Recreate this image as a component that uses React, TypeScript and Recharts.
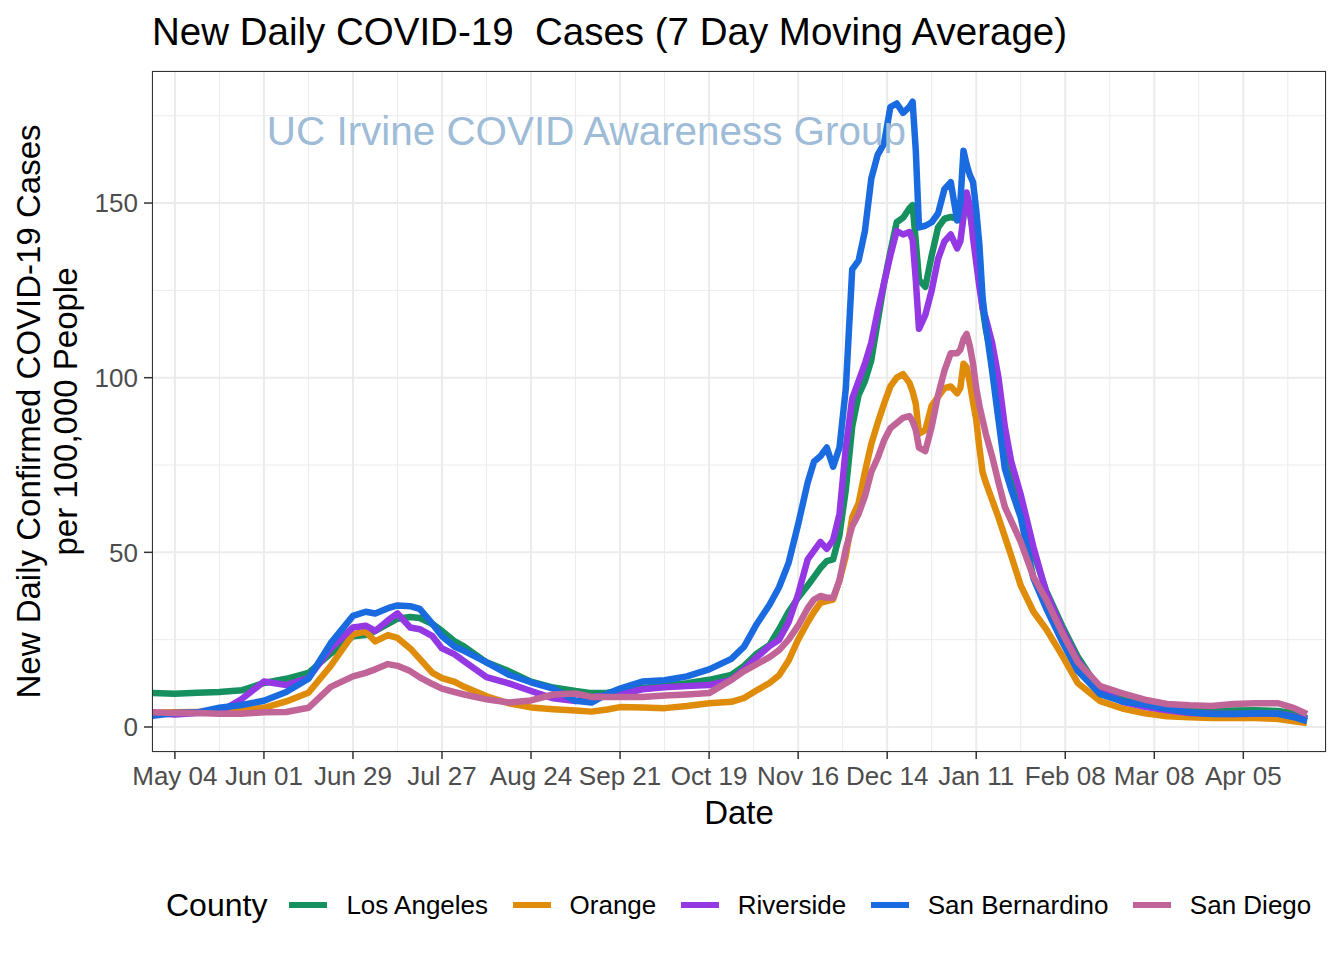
import React from 'react';
import {
  LineChart,
  Line,
  XAxis,
  YAxis,
  CartesianGrid,
  ReferenceDot
} from 'recharts';

// days counted from May 04 2020
const days = [
  -7, 0, 7, 14, 21, 28, 35, 42, 49, 56,
  60, 63, 67, 70, 74, 77, 81, 84, 88, 91,
  98, 105, 112, 119, 126, 131, 136, 140, 147, 154,
  161, 168, 175, 179, 183, 187, 190, 193, 196, 199,
  201, 203, 205, 207, 209, 211, 213, 215, 217, 219,
  221, 223, 225, 227, 229, 231, 232, 233, 234, 236,
  238, 240, 242, 244, 246, 247, 248, 249, 250, 251,
  252, 253, 254, 255, 257, 259, 261, 263, 266, 270,
  274, 279, 284, 291, 298, 305, 312, 319, 326, 333,
  340, 347, 352, 356
];

const losAngeles = [
  9.7, 9.5, 9.8, 10, 10.5, 12.6, 13.8, 15.5, 21, 26,
  26.3, 27.5, 29.5, 31, 31.5, 31.2, 29.5, 27.5, 24.5, 23,
  18.5, 16, 13, 11.3, 10.3, 9.7, 9.8, 10.3, 11.2, 11.8,
  12.5, 13.5, 14.9, 17.5, 21, 23.5, 28, 33, 37, 40.5,
  43, 45.5, 47.5, 48, 55, 68, 86, 95, 99, 105,
  116, 127, 136, 144.5, 145.8, 148.5, 149.4, 139, 128, 126,
  135, 143, 145.5, 146, 145.5, 145, 147, 150, 147, 142,
  135, 128, 120, 114, 105, 95, 82, 74, 64, 50,
  39, 29, 20, 10.3, 8, 6.8, 5.5, 4.8, 4.6, 4.7,
  4.8, 4.6, 3.9, 2.5
];

const orange = [
  4, 4.2, 4.3, 4.5, 4.8, 5.5, 7.3, 9.8, 17.5, 26.5,
  27.3, 24.5, 26.3, 25.5, 22.5, 19.5, 15.5, 14, 12.9, 11.5,
  8.8, 6.8, 5.6, 5.1, 4.7, 4.4, 5, 5.7, 5.6, 5.4,
  6, 6.8, 7.2, 8.3, 10.5, 12.6, 14.8, 19, 25, 30,
  33, 35.5, 36, 36.5, 42, 49, 60, 64, 73, 81,
  87, 92.5, 97.5, 100, 101, 98.5, 96, 92.5, 84, 85,
  92, 94.5, 97, 97.5, 95.5, 97, 104, 103, 98.5, 93,
  88, 80, 73, 70, 65, 60, 54.5, 49, 40.5, 33,
  28, 20.5, 12.5, 7.4, 5.3, 3.9, 3.1, 2.8, 2.6, 2.6,
  2.6, 2.3, 1.6, 1.1
];

const riverside = [
  4, 3.6, 4, 4.2, 8, 13, 12, 14, 22.5, 28.5,
  29, 27.5, 30.5, 32.5, 28.5, 28, 26, 22.5, 20.8, 18.8,
  14.3, 12.5, 10.3, 8.2, 7.4, 8.5, 9, 9.3, 10.8, 11.4,
  11.7, 12, 13.5, 16.5, 20, 23.2, 25, 30, 38, 48,
  50.5, 53, 51, 53.5, 61, 80, 94, 99, 104, 110,
  119, 127, 135, 142, 141, 141.7, 139.5, 128, 114, 118,
  125, 134, 139, 141, 137, 139, 146, 153, 149, 140,
  133, 126, 120, 117, 110, 100, 86, 76, 66.5, 51.5,
  38.5, 28, 19, 10.5, 7.2, 5.8, 4.8, 4, 3.8, 3.7,
  3.8, 3.8, 3, 2
];

const sanBernardino = [
  3.2, 4, 4.2, 5.5, 6.3, 7.5, 10, 13.8, 24, 31.8,
  33, 32.5, 34, 34.8, 34.6, 33.8, 29.5, 26, 23, 21.8,
  18.5, 15, 12.8, 11, 7.5, 7, 9.5, 11, 13, 13.4,
  14.5, 16.5, 19.5, 23, 29.5, 35, 40, 47, 58, 70,
  76, 77.5, 80, 74.5, 80, 97, 131, 133.5, 142, 157,
  163.8, 167, 177.5, 178.5, 175.8, 177.5, 179, 165, 143, 143.5,
  144.5, 147, 154, 156, 145, 150, 165, 161, 158, 156,
  148, 138, 123, 115, 102, 88, 74, 68, 60, 42.5,
  34, 24.5, 16, 9.4, 7.3, 6.4, 5.2, 4.2, 3.7, 3.7,
  3.9, 3.8, 2.8, 1.7
];

const sanDiego = [
  4.2, 4, 4, 3.8, 3.8, 4.2, 4.3, 5.5, 11.5, 14.5,
  15.5, 16.5, 18, 17.5, 16, 14.2, 12.3, 11, 10, 9.3,
  7.9, 7, 7.6, 9.3, 9.6, 8.6, 8.6, 8.6, 8.6, 9,
  9.3, 9.7, 13.5, 16, 18, 20, 22, 25, 29, 34,
  36.5, 37.5, 37, 37, 42, 51, 57.5, 61, 66, 73,
  77, 82, 85.5, 87, 88.5, 89, 87.5, 85, 80, 79,
  86, 95, 102, 107, 107, 108, 111, 112.5, 109, 104,
  97, 92, 88, 84, 77.5, 70, 63, 59, 53, 43,
  36.5, 27, 18.5, 11.7, 9.6, 7.8, 6.6, 6.2, 6, 6.6,
  6.8, 6.8, 5.4, 3.7
];

const tickLabels = [
  'May 04', 'Jun 01', 'Jun 29', 'Jul 27', 'Aug 24', 'Sep 21', 'Oct 19',
  'Nov 16', 'Dec 14', 'Jan 11', 'Feb 08', 'Mar 08', 'Apr 05'
];
const xTicks = tickLabels.map((_, i) => i * 28);
const xMinor = [14, 42, 70, 98, 126, 154, 182, 210, 238, 266, 294, 322, 350];
const yTicks = [0, 50, 100, 150];
const yMinor = [25, 75, 125, 175];

const series = [
  { key: 'la', name: 'Los Angeles', color: '#16905f', values: losAngeles },
  { key: 'orange', name: 'Orange', color: '#e08c0b', values: orange },
  { key: 'riverside', name: 'Riverside', color: '#9438e4', values: riverside },
  { key: 'sb', name: 'San Bernardino', color: '#1a6ae0', values: sanBernardino },
  { key: 'sd', name: 'San Diego', color: '#c16497', values: sanDiego }
];

const data = days.map((day, i) => {
  const row: Record<string, number> = { day };
  series.forEach(s => {
    row[s.key] = s.values[i];
  });
  return row;
});

const FONT = '"Liberation Sans", Arial, Helvetica, sans-serif';
const W = 1344;
const H = 960;

export default function App() {
  return (
    <div
      style={{
        position: 'absolute',
        left: 0,
        top: 0,
        width: W,
        height: H,
        background: '#fff',
        fontFamily: FONT
      }}
    >
      <div
        style={{
          position: 'absolute',
          left: 152,
          top: 12,
          fontSize: 38.5,
          lineHeight: '39px',
          whiteSpace: 'pre',
          color: '#000'
        }}
      >
        {'New Daily COVID-19  Cases (7 Day Moving Average)'}
      </div>

      <LineChart
        width={W}
        height={H}
        data={data}
        margin={{ top: 71, right: 18, left: 0, bottom: 148 }}
        style={{ fontFamily: FONT }}
      >
        <CartesianGrid
          stroke="#ebebeb"
          strokeWidth={1}
          horizontalValues={yMinor}
          verticalValues={xMinor}
        />
        <CartesianGrid stroke="#ebebeb" strokeWidth={2} />
        <XAxis
          type="number"
          dataKey="day"
          domain={[-7.2, 362]}
          allowDataOverflow
          ticks={xTicks}
          tickFormatter={(v: number) => tickLabels[Math.round(v / 28)] ?? ''}
          height={60}
          axisLine={false}
          tickSize={7}
          tickMargin={8}
          tickLine={{ stroke: '#333', strokeWidth: 1.5 }}
          tick={{ fontSize: 26, fill: '#4d4d4d' }}
          interval={0}
          label={{
            content: ({ viewBox }: any) => (
              <text
                x={viewBox.x + viewBox.width / 2}
                y={viewBox.y + 72}
                textAnchor="middle"
                fontSize={33}
                fill="#000"
              >
                Date
              </text>
            )
          }}
        />
        <YAxis
          type="number"
          domain={[-7.16, 187.8]}
          allowDataOverflow
          ticks={yTicks}
          width={152}
          axisLine={false}
          tickSize={8}
          tickMargin={6}
          tickLine={{ stroke: '#333', strokeWidth: 1.5 }}
          tick={{ fontSize: 26, fill: '#4d4d4d' }}
          label={{
            content: ({ viewBox }: any) => {
              const cy = viewBox.y + viewBox.height / 2;
              return (
                <text
                  transform={`rotate(-90, 39.5, ${cy})`}
                  x={39.5}
                  y={cy}
                  textAnchor="middle"
                  fontSize={33}
                  fill="#000"
                >
                  <tspan x={39.5} dy={0}>
                    New Daily Confirmed COVID-19 Cases
                  </tspan>
                  <tspan x={39.5} dy={37.5}>
                    per 100,000 People
                  </tspan>
                </text>
              );
            }
          }}
        />
        <ReferenceDot
          x={129.4}
          y={170.6}
          r={0}
          shape={(p: any) => (
            <text
              x={p.cx}
              y={p.cy + 14}
              textAnchor="middle"
              fontSize={40.4}
              fill="#9ebbd7"
            >
              UC Irvine COVID Awareness Group
            </text>
          )}
        />
        {series.map(s => (
          <Line
            key={s.key}
            type="linear"
            dataKey={s.key}
            name={s.name}
            stroke={s.color}
            strokeWidth={6.5}
            strokeLinejoin="round"
            dot={false}
            activeDot={false}
            isAnimationActive={false}
          />
        ))}
      </LineChart>

      {/* panel border */}
      <div
        style={{
          position: 'absolute',
          left: 152,
          top: 71,
          width: 1174,
          height: 681,
          boxSizing: 'border-box',
          border: '1.5px solid #333',
          pointerEvents: 'none'
        }}
      />

      {/* legend */}
      <div
        style={{
          position: 'absolute',
          left: 166,
          top: 885,
          height: 40,
          display: 'flex',
          alignItems: 'center',
          whiteSpace: 'nowrap'
        }}
      >
        <span style={{ fontSize: 32, marginRight: 22 }}>County</span>
        {series.map(s => (
          <span
            key={s.key}
            style={{ display: 'flex', alignItems: 'center', marginRight: 24.5 }}
          >
            <span
              style={{
                display: 'inline-block',
                width: 38,
                height: 6,
                background: s.color,
                marginRight: 19
              }}
            />
            <span style={{ fontSize: 26 }}>{s.name}</span>
          </span>
        ))}
      </div>
    </div>
  );
}
